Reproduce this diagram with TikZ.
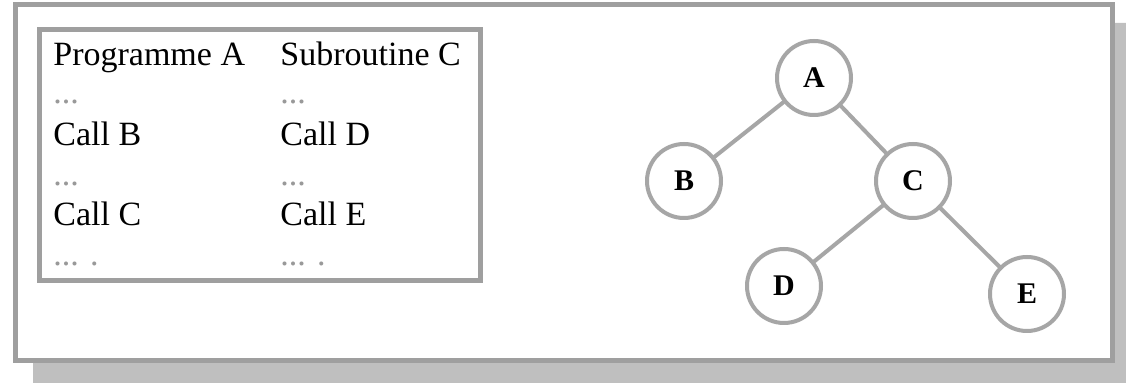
\documentclass[tikz,border=0pt]{standalone}
\usepackage{fontspec}
\setmainfont{Liberation Serif}
\usetikzlibrary{positioning}

\begin{document}
\begin{tikzpicture}[x=0.5pt,y=-0.5pt]
\tikzset{
  framebox/.style={draw=gray!75,line width=2.5pt,fill=white},
  shadowfill/.style={fill=gray!50,draw=none},
  codeline/.style={anchor=base west,inner sep=0pt,font=\fontsize{17pt}{20pt}\selectfont},
  codedots/.style={codeline,text=gray!80},
  treenode/.style={circle,draw=gray!70,line width=2pt,minimum size=37pt,inner sep=0pt,font=\bfseries\fontsize{15pt}{17pt}\selectfont},
  treeedge/.style={draw=gray!70,line width=2pt,line cap=round}
}
\useasboundingbox (0,0) rectangle (1126,383);
% shadow and frames
\fill[shadowfill] (33,363) -- (1112,363) -- (1112,23) -- (1126,23) -- (1126,383) -- (33,383) -- cycle;
\draw[framebox] (15.5,5) rectangle (1112,361);
\draw[framebox] (39.5,29.5) rectangle (480.5,280.5);
% call listings
\node[codeline] (t_progA) at (53,66) {Programme A};
\node[codedots] (t_dotsA1) at (53,104) {...};
\node[codeline] (t_callB) at (53,146) {Call B};
\node[codedots] (t_dotsA2) at (53,186) {...};
\node[codeline] (t_callC) at (53,226) {Call C};
\node[codedots] (t_dotsA3) at (53,266) {... .};
\node[codeline] (t_subC) at (280,66) {Subroutine C};
\node[codedots] (t_dotsC1) at (280,104) {...};
\node[codeline] (t_callD) at (280,146) {Call D};
\node[codedots] (t_dotsC2) at (280,186) {...};
\node[codeline] (t_callE) at (280,226) {Call E};
\node[codedots] (t_dotsC3) at (280,266) {... .};
% call tree
\node[treenode] (n_A) at (814,78) {A};
\node[treenode] (n_B) at (684,181) {B};
\node[treenode] (n_C) at (913,181) {C};
\node[treenode] (n_D) at (784,286) {D};
\node[treenode] (n_E) at (1027,294) {E};
\draw[treeedge] (n_A) -- (n_B);
\draw[treeedge] (n_A) -- (n_C);
\draw[treeedge] (n_C) -- (n_D);
\draw[treeedge] (n_C) -- (n_E);
\end{tikzpicture}
\end{document}
